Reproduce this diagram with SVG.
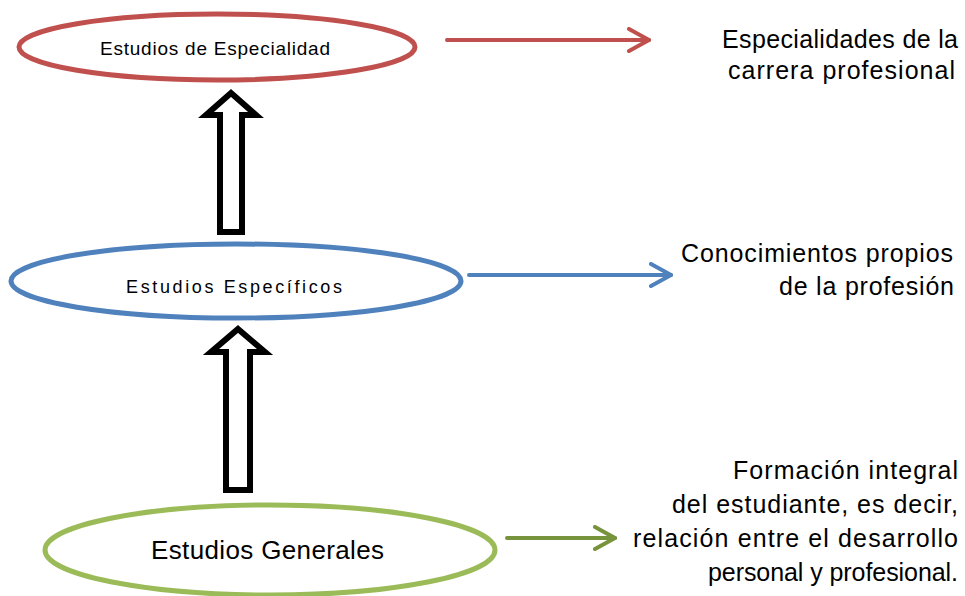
<svg xmlns="http://www.w3.org/2000/svg" width="965" height="596" viewBox="0 0 965 596">
  <style>
    .ell { fill: #ffffff; stroke-width: 5; }
    .lbl { font-family: "Liberation Sans", Arial, sans-serif; fill: #000000; }
    .side { font-family: "Liberation Sans", Arial, sans-serif; font-size: 25px; fill: #000000; text-anchor: end; }
    .conn { fill: none; stroke-width: 4; stroke-linecap: round; }
    .up { fill: #ffffff; stroke: #000000; stroke-width: 6; stroke-linejoin: miter; }
  </style>
  <defs>
    <marker id="mRed" viewBox="0 0 24 26" refX="22" refY="13" markerWidth="24" markerHeight="26" markerUnits="userSpaceOnUse" orient="auto">
      <path d="M2,2 L22,13 L2,24" fill="none" stroke="#C0504D" stroke-width="4" stroke-linecap="round" stroke-linejoin="round"/>
    </marker>
    <marker id="mBlue" viewBox="0 0 24 26" refX="22" refY="13" markerWidth="24" markerHeight="26" markerUnits="userSpaceOnUse" orient="auto">
      <path d="M2,2 L22,13 L2,24" fill="none" stroke="#4F81BD" stroke-width="4" stroke-linecap="round" stroke-linejoin="round"/>
    </marker>
    <marker id="mGreen" viewBox="0 0 24 26" refX="22" refY="13" markerWidth="24" markerHeight="26" markerUnits="userSpaceOnUse" orient="auto">
      <path d="M2,2 L22,13 L2,24" fill="none" stroke="#77933C" stroke-width="4" stroke-linecap="round" stroke-linejoin="round"/>
    </marker>
  </defs>
  <rect x="0" y="0" width="965" height="596" fill="#ffffff"/>

  <g id="connectors">
    <line class="conn" x1="447" y1="40" x2="649" y2="40" stroke="#C0504D" marker-end="url(#mRed)"/>
    <line class="conn" x1="469" y1="275" x2="671" y2="275" stroke="#4F81BD" marker-end="url(#mBlue)"/>
    <line class="conn" x1="507" y1="538" x2="615" y2="538" stroke="#77933C" marker-end="url(#mGreen)"/>
    <path class="up" d="M231,93 L256,115 L242,115 L242,232 L220,232 L220,115 L206,115 Z"/>
    <path class="up" d="M238,329 L265,352 L250,352 L250,490 L226,490 L226,352 L211,352 Z"/>
  </g>

  <g id="node-especialidad">
    <ellipse class="ell" cx="217" cy="47" rx="198" ry="33" stroke="#C0504D"/>
    <text class="lbl" x="100" y="55" font-size="19" textLength="230" lengthAdjust="spacing">Estudios de Especialidad</text>
  </g>

  <g id="node-especificos">
    <ellipse class="ell" cx="236" cy="281" rx="225" ry="37" stroke="#4F81BD"/>
    <text class="lbl" x="126" y="293" font-size="18" textLength="216" lengthAdjust="spacing">Estudios Específicos</text>
  </g>

  <g id="node-generales">
    <ellipse class="ell" cx="270" cy="550" rx="225" ry="45" stroke="#9BBB59"/>
    <text class="lbl" x="151" y="559" font-size="26" textLength="233" lengthAdjust="spacing">Estudios Generales</text>
  </g>

  <g id="desc-especialidad">
    <text class="side" x="958" y="48" textLength="236" lengthAdjust="spacing">Especialidades de la</text>
    <text class="side" x="955" y="79" textLength="227" lengthAdjust="spacing">carrera profesional</text>
  </g>

  <g id="desc-especificos">
    <text class="side" x="953" y="262" textLength="272" lengthAdjust="spacing">Conocimientos propios</text>
    <text class="side" x="954" y="295" textLength="175" lengthAdjust="spacing">de la profesión</text>
  </g>

  <g id="desc-generales">
    <text class="side" x="958" y="479" textLength="225" lengthAdjust="spacing">Formación integral</text>
    <text class="side" x="958" y="513" textLength="286" lengthAdjust="spacing">del estudiante, es decir,</text>
    <text class="side" x="958" y="547" textLength="325" lengthAdjust="spacing">relación entre el desarrollo</text>
    <text class="side" x="958" y="581" textLength="250" lengthAdjust="spacing">personal y profesional.</text>
  </g>
</svg>
